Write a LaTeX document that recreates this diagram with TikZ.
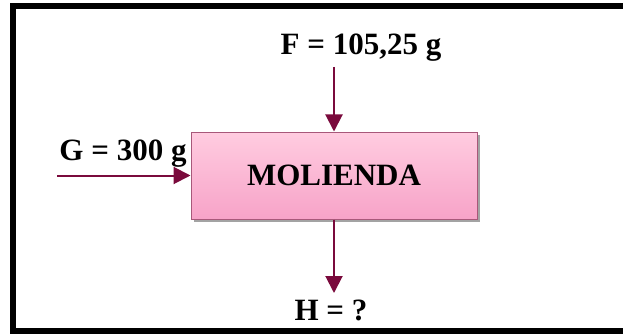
\documentclass[tikz,border=0pt]{standalone}
\usepackage{fontspec}
\setmainfont{Liberation Serif}
\usepackage{tikz}
\usetikzlibrary{arrows.meta,positioning,shadows}
\definecolor{flowred}{HTML}{7A0A3C}
\definecolor{boxedge}{HTML}{A8587A}
\definecolor{pinktop}{HTML}{FFCCE0}
\definecolor{pinkbot}{HTML}{F7A3C8}
\tikzset{
  procbox/.style={draw=boxedge, line width=1pt, top color=pinktop, bottom color=pinkbot,
    minimum width=286pt, minimum height=87pt, inner sep=0pt,
    font=\fontsize{31}{36}\selectfont\bfseries,
    drop shadow={shadow xshift=2.5pt, shadow yshift=-2.5pt, fill=black!45, opacity=0.8}},
  flowlabel/.style={anchor=base, inner sep=0pt, font=\fontsize{31}{36}\selectfont\bfseries},
  flowarr/.style={-{Triangle[length=17pt,width=17pt]}, line width=2pt, draw=flowred, color=flowred}
}
\begin{document}
\begin{tikzpicture}[x=1pt,y=-1pt]
    \useasboundingbox (0,0) rectangle (623,334);
    \clip (0,0) rectangle (623,334);
    \fill[white] (0,0) rectangle (623,334);
    \draw[line width=6pt] (13,6) rectangle (650,330.5);
    \node[procbox] (molienda) at (334,175.5) {MOLIENDA};
    \node[flowlabel] (flabel) at (361,55) {F = 105,25 g};
    \node[flowlabel] (glabel) at (123,160) {G = 300 g};
    \node[flowlabel] (hlabel) at (331,320) {H = ?};
    \coordinate (fin) at (334,67);
    \coordinate (gin) at (57,175.5);
    \coordinate (hout) at (334,293);
    \draw[flowarr] (fin) -- (molienda.north);
    \draw[flowarr] (gin) -- (molienda.west);
    \draw[flowarr] (molienda.south) -- (hout);
  \end{tikzpicture}
\end{document}
